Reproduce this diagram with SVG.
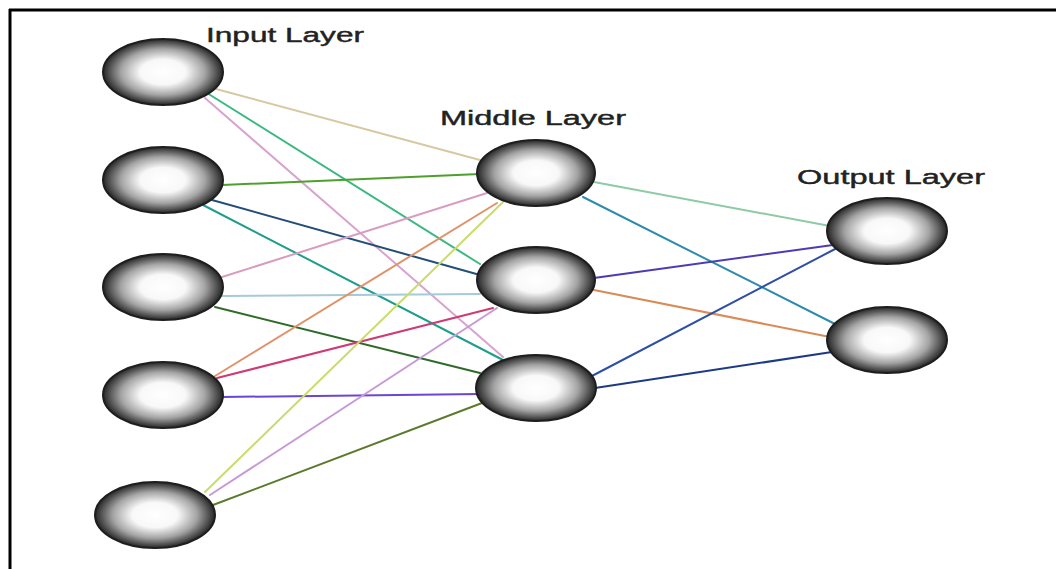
<svg xmlns="http://www.w3.org/2000/svg" width="1056" height="569" viewBox="0 0 1056 569">
  <defs>
    <radialGradient id="ball" cx="50%" cy="50%" r="50%">
      <stop offset="0%" stop-color="#ffffff"/>
      <stop offset="38%" stop-color="#f8f8f8"/>
      <stop offset="70%" stop-color="#a4a4a4"/>
      <stop offset="90%" stop-color="#505050"/>
      <stop offset="100%" stop-color="#262626"/>
    </radialGradient>
  </defs>
  <style>
    .node { fill: url(#ball); stroke: #1e1e1e; stroke-width: 2; }
    .lbl { font-family: "Liberation Sans", Arial, sans-serif; font-size: 20px; fill: #222; stroke: #222; stroke-width: 0.4; }
    .edge { fill: none; stroke-width: 2; stroke-linecap: round; }
    .frame { stroke: #000; stroke-width: 3; fill: none; }
  </style>
  <rect width="1056" height="569" fill="#ffffff"/>
  <g id="frame">
    <line class="frame" x1="9" y1="10" x2="1056" y2="10"/>
    <line class="frame" x1="10" y1="9" x2="10" y2="569"/>
  </g>
  <g id="connectors">
    <line class="edge" stroke="#d6c8a0" x1="205" y1="86" x2="480" y2="160"/>
    <line class="edge" stroke="#3ab882" x1="207" y1="93" x2="480" y2="264"/>
    <line class="edge" stroke="#d9a3cf" x1="205" y1="98" x2="503" y2="357"/>
    <line class="edge" stroke="#4e9f2c" x1="222" y1="185" x2="480" y2="174"/>
    <line class="edge" stroke="#234e78" x1="212" y1="200" x2="480" y2="275"/>
    <line class="edge" stroke="#1e9c8c" x1="203" y1="205" x2="503" y2="360"/>
    <line class="edge" stroke="#d99cbf" x1="222" y1="277" x2="487" y2="193"/>
    <line class="edge" stroke="#a4cbd8" x1="222" y1="296" x2="480" y2="294"/>
    <line class="edge" stroke="#2e6b28" x1="215" y1="307" x2="480" y2="373"/>
    <line class="edge" stroke="#e0926a" x1="215" y1="376" x2="497" y2="203"/>
    <line class="edge" stroke="#cf3a72" x1="217" y1="378" x2="493" y2="308"/>
    <line class="edge" stroke="#6b45d4" x1="222" y1="397" x2="480" y2="394"/>
    <line class="edge" stroke="#c9dc6a" x1="205" y1="492" x2="503" y2="202"/>
    <line class="edge" stroke="#c79ad6" x1="210" y1="495" x2="497" y2="308"/>
    <line class="edge" stroke="#5d7a2c" x1="213" y1="505" x2="482" y2="403"/>
    <line class="edge" stroke="#8fcaa6" x1="594" y1="182" x2="830" y2="226"/>
    <line class="edge" stroke="#2f8bab" x1="583" y1="197" x2="835" y2="324"/>
    <line class="edge" stroke="#4b3cb3" x1="594" y1="278" x2="833" y2="245"/>
    <line class="edge" stroke="#d98a55" x1="594" y1="290" x2="830" y2="337"/>
    <line class="edge" stroke="#2d4fa6" x1="590" y1="377" x2="837" y2="248"/>
    <line class="edge" stroke="#1d3a86" x1="595" y1="388" x2="832" y2="352"/>
  </g>
  <g id="input-1"><ellipse class="node" cx="163" cy="72" rx="60" ry="33"/></g>
  <g id="input-2"><ellipse class="node" cx="163" cy="180" rx="60" ry="33"/></g>
  <g id="input-3"><ellipse class="node" cx="163" cy="287" rx="60" ry="33"/></g>
  <g id="input-4"><ellipse class="node" cx="163" cy="395" rx="60" ry="33"/></g>
  <g id="input-5"><ellipse class="node" cx="155" cy="515" rx="60" ry="33"/></g>
  <g id="middle-1"><ellipse class="node" cx="536" cy="173" rx="59" ry="33"/></g>
  <g id="middle-2"><ellipse class="node" cx="536" cy="280" rx="59" ry="33"/></g>
  <g id="middle-3"><ellipse class="node" cx="536" cy="388" rx="60" ry="33"/></g>
  <g id="output-1"><ellipse class="node" cx="887" cy="231" rx="60" ry="33"/></g>
  <g id="output-2"><ellipse class="node" cx="887" cy="340" rx="60" ry="33"/></g>
  <g id="labels">
    <text class="lbl" x="206" y="42" textLength="158" lengthAdjust="spacingAndGlyphs">Input Layer</text>
    <text class="lbl" x="440" y="125" textLength="186" lengthAdjust="spacingAndGlyphs">Middle Layer</text>
    <text class="lbl" x="797" y="184" textLength="188" lengthAdjust="spacingAndGlyphs">Output Layer</text>
  </g>
</svg>
